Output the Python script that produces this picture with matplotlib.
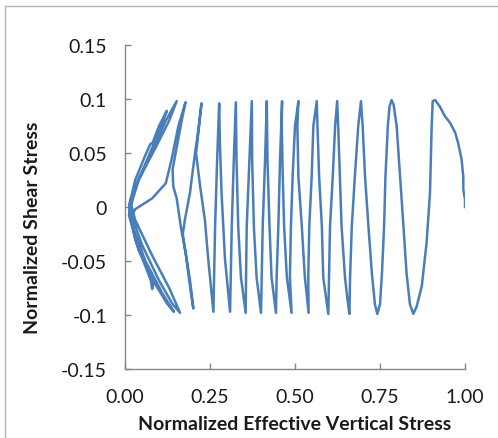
import matplotlib
matplotlib.use("Agg")
import matplotlib.pyplot as plt
from matplotlib.lines import Line2D

# stress path (normalized effective vertical stress, normalized shear stress)
eff_stress = [
    1.000, 1.000, 0.995, 0.995, 0.990, 0.980, 0.971, 0.956, 0.941, 0.926, 0.912, 0.905,
    0.902, 0.899, 0.897, 0.887, 0.873, 0.858, 0.848,
    0.838, 0.828, 0.819, 0.809, 0.799, 0.790, 0.784,
    0.778, 0.773, 0.766, 0.762, 0.756, 0.750, 0.742,
    0.735, 0.726, 0.716, 0.706, 0.699, 0.694,
    0.686, 0.676, 0.667, 0.662, 0.660,
    0.654, 0.647, 0.637, 0.632, 0.627, 0.624,
    0.618, 0.611, 0.603, 0.600, 0.598,
    0.583, 0.579, 0.571, 0.566, 0.564,
    0.554, 0.549, 0.542, 0.539, 0.540,
    0.529, 0.520, 0.510, 0.507, 0.510,
    0.500, 0.493, 0.488, 0.485, 0.490,
    0.476, 0.468, 0.464, 0.461, 0.462,
    0.456, 0.451, 0.446, 0.444,
    0.431, 0.425, 0.419, 0.417,
    0.412, 0.405, 0.402, 0.400,
    0.387, 0.379, 0.374, 0.373,
    0.366, 0.358, 0.356, 0.355,
    0.341, 0.333, 0.328, 0.326,
    0.320, 0.314, 0.311, 0.309,
    0.294, 0.284, 0.279, 0.277,
    0.271, 0.265, 0.262, 0.260,
    0.245, 0.235, 0.221, 0.209, 0.216, 0.225,
    0.215, 0.206, 0.191, 0.176, 0.170, 0.181, 0.191, 0.201,
    0.192, 0.180, 0.165, 0.152, 0.142, 0.140, 0.155, 0.168, 0.178,
    0.157, 0.137, 0.120, 0.080, 0.030, 0.020, 0.050, 0.100, 0.140, 0.162,
    0.130, 0.080, 0.030, 0.018, 0.040, 0.080, 0.120, 0.152,
    0.130, 0.090, 0.040, 0.015, 0.012, 0.040, 0.090, 0.125, 0.144,
    0.110, 0.060, 0.025, 0.013, 0.030, 0.060, 0.074, 0.082, 0.100, 0.123,
    0.100, 0.060, 0.025, 0.014, 0.030, 0.060, 0.076, 0.080, 0.084, 0.078,
]
shear = [
    0.000, 0.007, 0.016, 0.028, 0.044, 0.059, 0.069, 0.078, 0.084, 0.093, 0.099, 0.098,
    0.075, 0.040, 0.013, -0.033, -0.073, -0.092, -0.099,
    -0.090, -0.061, -0.018, 0.028, 0.075, 0.095, 0.099,
    0.093, 0.075, 0.028, -0.018, -0.060, -0.090, -0.099,
    -0.090, -0.061, -0.018, 0.028, 0.075, 0.098,
    0.075, 0.028, -0.018, -0.065, -0.099,
    -0.085, -0.065, -0.018, 0.028, 0.075, 0.098,
    0.075, 0.028, -0.018, -0.065, -0.099,
    -0.065, -0.018, 0.028, 0.075, 0.098,
    0.075, 0.028, -0.018, -0.065, -0.098,
    -0.065, -0.018, 0.028, 0.075, 0.098,
    0.075, 0.028, -0.018, -0.065, -0.098,
    -0.065, -0.018, 0.028, 0.075, 0.098,
    0.044, -0.018, -0.065, -0.098,
    -0.065, -0.018, 0.044, 0.098,
    0.044, -0.018, -0.065, -0.098,
    -0.065, -0.018, 0.044, 0.098,
    0.044, -0.018, -0.065, -0.098,
    -0.065, -0.018, 0.044, 0.097,
    0.044, -0.018, -0.065, -0.097,
    -0.048, 0.013, 0.060, 0.096,
    0.044, -0.018, -0.065, -0.097,
    -0.049, -0.012, 0.019, 0.050, 0.069, 0.096,
    0.070, 0.050, 0.013, -0.012, -0.025, -0.049, -0.073, -0.094,
    -0.070, -0.045, -0.020, 0.008, 0.019, 0.035, 0.060, 0.082, 0.097,
    0.075, 0.044, 0.022, 0.008, -0.002, -0.008, -0.035, -0.068, -0.090, -0.098,
    -0.075, -0.045, -0.012, 0.002, 0.025, 0.052, 0.080, 0.098,
    0.080, 0.055, 0.025, 0.006, -0.008, -0.040, -0.072, -0.090, -0.097,
    -0.080, -0.050, -0.020, 0.002, 0.025, 0.048, 0.058, 0.060, 0.075, 0.089,
    0.070, 0.040, 0.015, -0.005, -0.030, -0.055, -0.068, -0.076, -0.070, -0.062,
]

x_ticks = [0.0, 0.25, 0.5, 0.75, 1.0]
x_labels = ["0.00", "0.25", "0.50", "0.75", "1.00"]
y_ticks = [-0.15, -0.1, -0.05, 0.0, 0.05, 0.1, 0.15]
y_labels = ["-0.15", "-0.1", "-0.05", "0", "0.05", "0.1", "0.15"]

plt.rcParams["font.family"] = ["Lato", "DejaVu Sans"]
W, H = 498, 439
fig = plt.figure(figsize=(W / 100, H / 100), dpi=100)
ax = fig.add_axes([125 / W, 1 - 370 / H, 340 / W, 324 / H])

ax.plot(eff_stress, shear, color="#4A7EBB", lw=1.8, solid_joinstyle="round")

ax.set_xlim(0, 1)
ax.set_ylim(-0.15, 0.15)
ax.set_xticks(x_ticks)
ax.set_xticklabels(x_labels)
ax.set_yticks(y_ticks)
ax.set_yticklabels(y_labels)

for s in ["top", "right"]:
    ax.spines[s].set_visible(False)
for s in ["left", "bottom"]:
    ax.spines[s].set_color("#868686")
    ax.spines[s].set_linewidth(1.0)
ax.tick_params(direction="in", length=4.5, width=1.0, color="#868686",
               labelsize=14, labelcolor="#1a1a1a")
ax.tick_params(axis="x", pad=14)
ax.tick_params(axis="y", pad=13)

fig.text(295 / W, 1 - 425 / H, "Normalized Effective Vertical Stress",
         ha="center", va="center", fontsize=14, fontweight="bold", color="#1a1a1a")
fig.text(33 / W, 1 - 228 / H, "Normalized Shear Stress", rotation=90,
         ha="center", va="center", fontsize=14, fontweight="bold", color="#1a1a1a")

# outer chart frame (partly cut off)
fig.add_artist(Line2D([5 / W, 5 / W], [0, 1 - 7 / H], transform=fig.transFigure,
                      color="#b4b4b4", lw=1.0))
fig.add_artist(Line2D([5 / W, 1], [1 - 7 / H, 1 - 7 / H], transform=fig.transFigure,
                      color="#b4b4b4", lw=1.0))

fig.savefig("out.png", dpi=100)
